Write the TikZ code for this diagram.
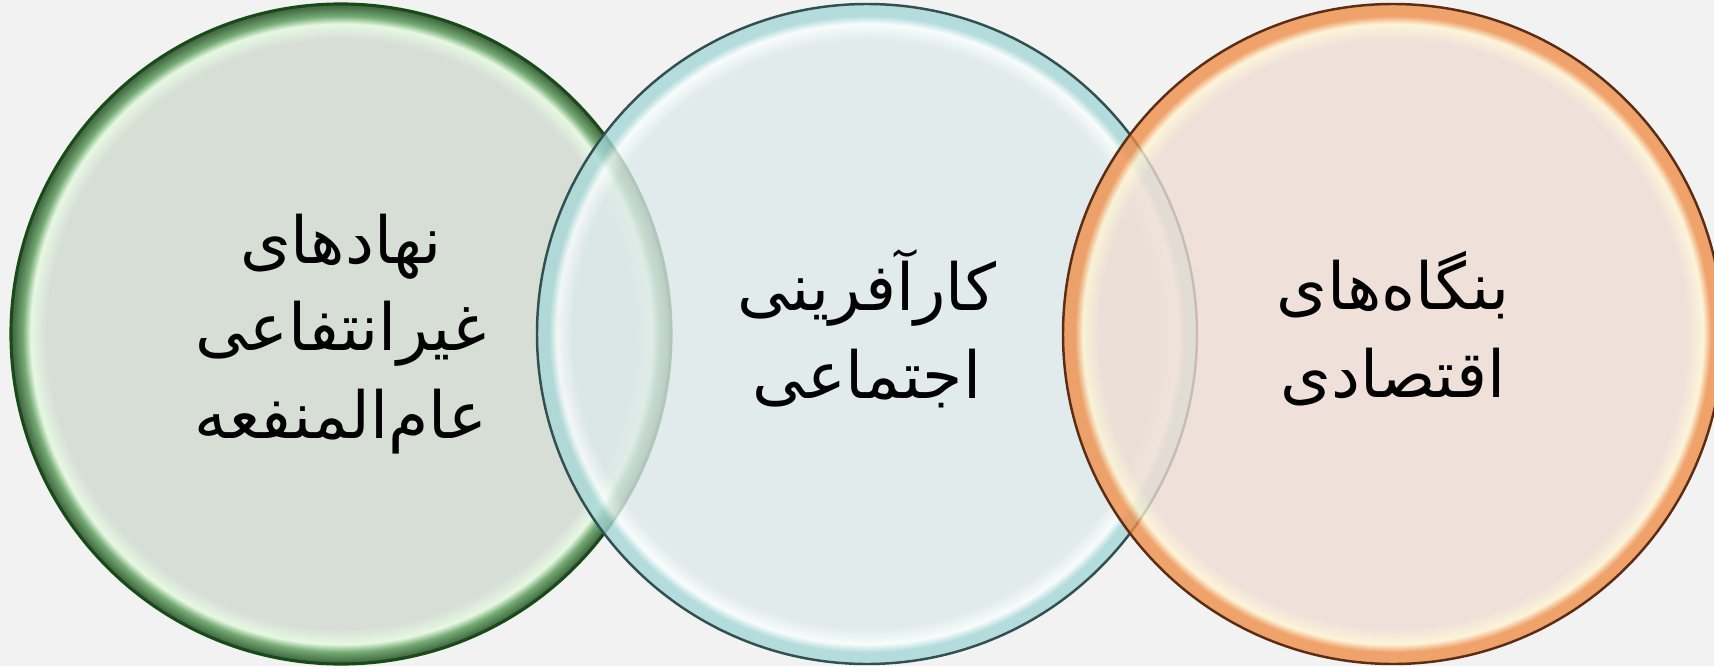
\documentclass[tikz,border=0pt]{standalone}
\usepackage{fontspec}
\usepackage{xcolor}
\usepackage{tikz}
\usetikzlibrary{positioning}
\TeXXeTstate=1
\newfontfamily\arabicfont[Script=Arabic]{DejaVu Sans}
\definecolor{pagegray}{RGB}{242, 242, 242}
% green circle
\definecolor{ngofill}{RGB}{207, 217, 207}
\definecolor{ngoshine}{RGB}{228, 250, 222}
\definecolor{ngorim}{RGB}{80, 150, 80}
\definecolor{ngodark}{RGB}{25, 75, 25}
% teal circle
\definecolor{socfill}{RGB}{221, 234, 234}
\definecolor{socshine}{RGB}{250, 255, 255}
\definecolor{socrim}{RGB}{165, 215, 215}
\definecolor{socdark}{RGB}{50, 80, 80}
% orange circle
\definecolor{bizfill}{RGB}{239, 221, 210}
\definecolor{bizshine}{RGB}{255, 245, 210}
\definecolor{bizrim}{RGB}{240, 140, 70}
\definecolor{bizdark}{RGB}{90, 45, 20}
\pgfdeclareradialshading{ngoglass}{\pgfpoint{0bp}{0bp}}{color(0bp)=(ngofill); color(22.3bp)=(ngofill); color(23.5bp)=(ngoshine); color(24.1bp)=(ngorim); color(24.8bp)=(ngodark); color(50bp)=(ngodark)}
\pgfdeclareradialshading{socglass}{\pgfpoint{0bp}{0bp}}{color(0bp)=(socfill); color(22.3bp)=(socfill); color(23.5bp)=(socshine); color(24.1bp)=(socrim); color(24.8bp)=(socrim); color(50bp)=(socrim)}
\pgfdeclareradialshading{bizglass}{\pgfpoint{0bp}{0bp}}{color(0bp)=(bizfill); color(22.3bp)=(bizfill); color(23.5bp)=(bizshine); color(24.1bp)=(bizrim); color(24.8bp)=(bizrim); color(50bp)=(bizrim)}
\begin{document}
\begin{tikzpicture}[
  venn/.style={circle, minimum size=6.6cm, inner sep=0pt, fill opacity=0.78},
  label/.style={align=center, text=black, font=\arabicfont\fontsize{18.5}{25}\selectfont}]
  \fill[pagegray] (0,0) rectangle (17.14,6.66);
  \useasboundingbox (0,0) rectangle (17.14,6.66);

  \node[venn, shading=ngoglass, draw=ngodark, line width=0.9pt] (ngo) at (3.41,3.32) {};
  \node[venn, shading=socglass, draw=socdark, line width=0.7pt] (social) at (8.67,3.32) {};
  \node[venn, shading=bizglass, draw=bizdark, line width=0.7pt] (biz) at (13.93,3.32) {};

  \node[label] (ngotext) at (ngo.center) {\beginR نهادهای\endR\\ \beginR غیرانتفاعی\endR\\ \beginR عام‌المنفعه\endR};
  \node[label] (socialtext) at ([yshift=0.05cm]social.center) {\beginR کارآفرینی\endR\\ \beginR اجتماعی\endR};
  \node[label] (biztext) at ([yshift=0.05cm]biz.center) {\beginR بنگاه‌های\endR\\ \beginR اقتصادی\endR};
\end{tikzpicture}
\end{document}
